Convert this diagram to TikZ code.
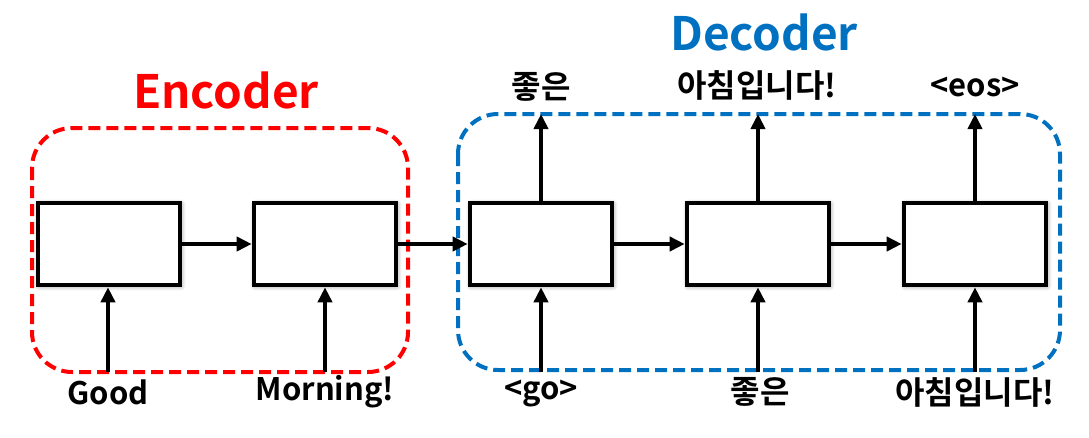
\documentclass[tikz,border=0pt]{standalone}
\usepackage{fontspec}
\setmainfont{Noto Sans CJK KR}[BoldFont={* Bold}]
\usetikzlibrary{arrows.meta,shadows.blur}
\definecolor{encred}{RGB}{255,0,0}
\definecolor{decblue}{RGB}{0,112,192}
\tikzset{
  cell/.style={draw=black, line width=4.6pt, fill=white, minimum width=142pt, minimum height=82pt, inner sep=0pt,
    blur shadow={shadow xshift=1pt, shadow yshift=-1pt, shadow blur steps=10, shadow blur radius=5pt, shadow opacity=45}},
  flow/.style={line width=3.8pt, -{Triangle[length=15pt,width=14pt]}},
  lab/.style={font=\bfseries\fontsize{31}{34}\selectfont, inner sep=0pt},
  klab/.style={font=\bfseries\fontsize{32}{35}\selectfont, inner sep=0pt},
  title/.style={font=\bfseries\fontsize{46}{50}\selectfont, inner sep=0pt},
  group/.style={line width=4pt, dash pattern=on 12pt off 6pt, rounded corners=40pt}
}
\begin{document}
\begin{tikzpicture}[x=1pt,y=-1pt]
\useasboundingbox (0,0) rectangle (1089,437);
% groups
\draw[group, draw=encred] (32,128) rectangle (408,372);
\draw[group, draw=decblue] (458,114) rectangle (1060,370);
\node[title, text=encred] (enc) at (226,90) {Encoder};
\node[title, text=decblue] (dec) at (764,32) {Decoder};
% cells
\node[cell] (c1) at (109,244) {};
\node[cell] (c2) at (325,244) {};
\node[cell] (c3) at (541,244) {};
\node[cell] (c4) at (758,244) {};
\node[cell] (c5) at (975,244) {};
% inputs
\node[lab] (i1) at (108,392) {Good};
\node[lab] (i2) at (325,392) {Morning!};
\node[lab] (i3) at (541,394) {<go>};
\node[klab] (i4) at (760,392) {좋은};
\node[klab] (i5) at (975,392) {아침입니다!};
\coordinate (b1) at (108,372);
\coordinate (b2) at (325,372);
\coordinate (b3) at (541,372);
\coordinate (b4) at (758,372);
\coordinate (b5) at (975,372);
% outputs
\node[klab] (o3) at (541,87) {좋은};
\node[klab] (o4) at (757,85) {아침입니다!};
\node[lab] (o5) at (975,87) {<eos>};
\coordinate (t3) at (541,114);
\coordinate (t4) at (758,114);
\coordinate (t5) at (975,114);
% arrows
\draw[flow] (b1) -- (b1 |- c1.south);
\draw[flow] (b2) -- (b2 |- c2.south);
\draw[flow] (b3) -- (b3 |- c3.south);
\draw[flow] (b4) -- (b4 |- c4.south);
\draw[flow] (b5) -- (b5 |- c5.south);
\draw[flow] (c3.north) -- (t3);
\draw[flow] (c4.north) -- (t4);
\draw[flow] (c5.north) -- (t5);
\draw[flow] (c1.east) -- (c2.west);
\draw[flow] (c2.east) -- (c3.west);
\draw[flow] (c3.east) -- (c4.west);
\draw[flow] (c4.east) -- (c5.west);
\end{tikzpicture}
\end{document}
